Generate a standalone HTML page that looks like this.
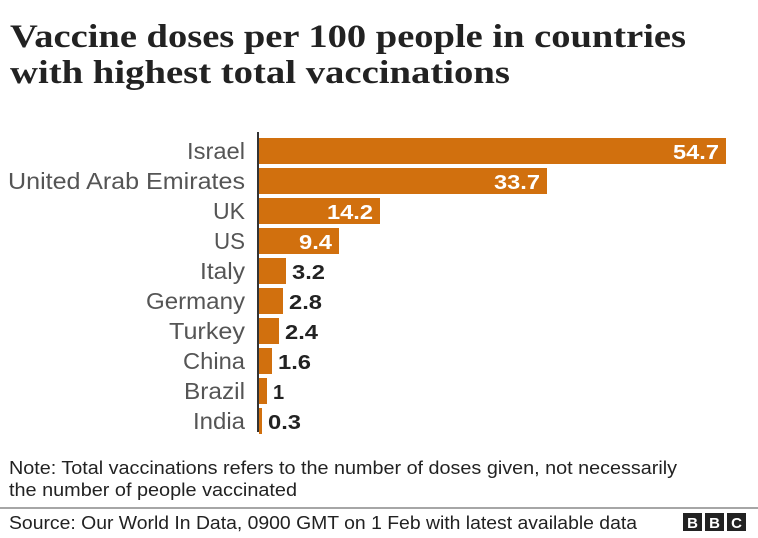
<!DOCTYPE html>
<html><head><meta charset="utf-8"><style>
body{margin:0;background:#fff;width:758px;height:533px;overflow:hidden;font-family:"Liberation Sans",sans-serif;}
</style></head><body>
<svg width="758" height="533" xmlns="http://www.w3.org/2000/svg" font-family="Liberation Sans, sans-serif">
<text x="10" y="47" font-size="33" font-weight="bold" fill="#222" font-family="Liberation Serif, serif" textLength="676" lengthAdjust="spacingAndGlyphs">Vaccine doses per 100 people in countries</text>
<text x="10" y="83" font-size="33" font-weight="bold" fill="#222" font-family="Liberation Serif, serif" textLength="500" lengthAdjust="spacingAndGlyphs">with highest total vaccinations</text>
<g fill="#d1700e">
<rect x="259" y="138" width="467" height="26"/>
<rect x="259" y="168" width="288" height="26"/>
<rect x="259" y="198" width="121" height="26"/>
<rect x="259" y="228" width="80" height="26"/>
<rect x="259" y="258" width="27" height="26"/>
<rect x="259" y="288" width="24" height="26"/>
<rect x="259" y="318" width="20" height="26"/>
<rect x="259" y="348" width="13" height="26"/>
<rect x="259" y="378" width="8" height="26"/>
<rect x="259" y="408" width="3" height="26"/>
</g>
<line x1="258" y1="132" x2="258" y2="432" stroke="#333" stroke-width="2"/>
<g font-size="23" fill="#555" text-anchor="end">
<text x="245" y="159" textLength="58" lengthAdjust="spacingAndGlyphs">Israel</text>
<text x="245" y="189" textLength="237" lengthAdjust="spacingAndGlyphs">United Arab Emirates</text>
<text x="245" y="219" textLength="32" lengthAdjust="spacingAndGlyphs">UK</text>
<text x="245" y="249" textLength="31" lengthAdjust="spacingAndGlyphs">US</text>
<text x="245" y="279" textLength="45" lengthAdjust="spacingAndGlyphs">Italy</text>
<text x="245" y="309" textLength="99" lengthAdjust="spacingAndGlyphs">Germany</text>
<text x="245" y="339" textLength="76" lengthAdjust="spacingAndGlyphs">Turkey</text>
<text x="245" y="369" textLength="62" lengthAdjust="spacingAndGlyphs">China</text>
<text x="245" y="399" textLength="61" lengthAdjust="spacingAndGlyphs">Brazil</text>
<text x="245" y="429" textLength="52" lengthAdjust="spacingAndGlyphs">India</text>
</g>
<g font-size="20" font-weight="bold" fill="#fff" text-anchor="end">
<text x="719" y="159" textLength="46" lengthAdjust="spacingAndGlyphs">54.7</text>
<text x="540" y="189" textLength="46" lengthAdjust="spacingAndGlyphs">33.7</text>
<text x="373" y="219" textLength="46" lengthAdjust="spacingAndGlyphs">14.2</text>
<text x="332" y="249" textLength="33" lengthAdjust="spacingAndGlyphs">9.4</text>
</g>
<g font-size="20" font-weight="bold" fill="#222">
<text x="292" y="279" textLength="33" lengthAdjust="spacingAndGlyphs">3.2</text>
<text x="289" y="309" textLength="33" lengthAdjust="spacingAndGlyphs">2.8</text>
<text x="285" y="339" textLength="33" lengthAdjust="spacingAndGlyphs">2.4</text>
<text x="278" y="369" textLength="33" lengthAdjust="spacingAndGlyphs">1.6</text>
<text x="273" y="399">1</text>
<text x="268" y="429" textLength="33" lengthAdjust="spacingAndGlyphs">0.3</text>
</g>
<text x="9" y="474" font-size="18" fill="#222" textLength="668" lengthAdjust="spacingAndGlyphs">Note: Total vaccinations refers to the number of doses given, not necessarily</text>
<text x="9" y="496" font-size="18" fill="#222" textLength="288" lengthAdjust="spacingAndGlyphs">the number of people vaccinated</text>
<line x1="0" y1="508" x2="758" y2="508" stroke="#888" stroke-width="1.5"/>
<text x="9" y="529" font-size="18" fill="#222" textLength="628" lengthAdjust="spacingAndGlyphs">Source: Our World In Data, 0900 GMT on 1 Feb with latest available data</text>
<g>
<rect x="683" y="513" width="19" height="18" fill="#222"/>
<rect x="705" y="513" width="19" height="18" fill="#222"/>
<rect x="727" y="513" width="19" height="18" fill="#222"/>
<g font-size="15" font-weight="bold" fill="#fff" text-anchor="middle">
<text x="692.5" y="528">B</text><text x="714.5" y="528">B</text><text x="736.5" y="528">C</text>
</g>
</g>
</svg>
</body></html>
